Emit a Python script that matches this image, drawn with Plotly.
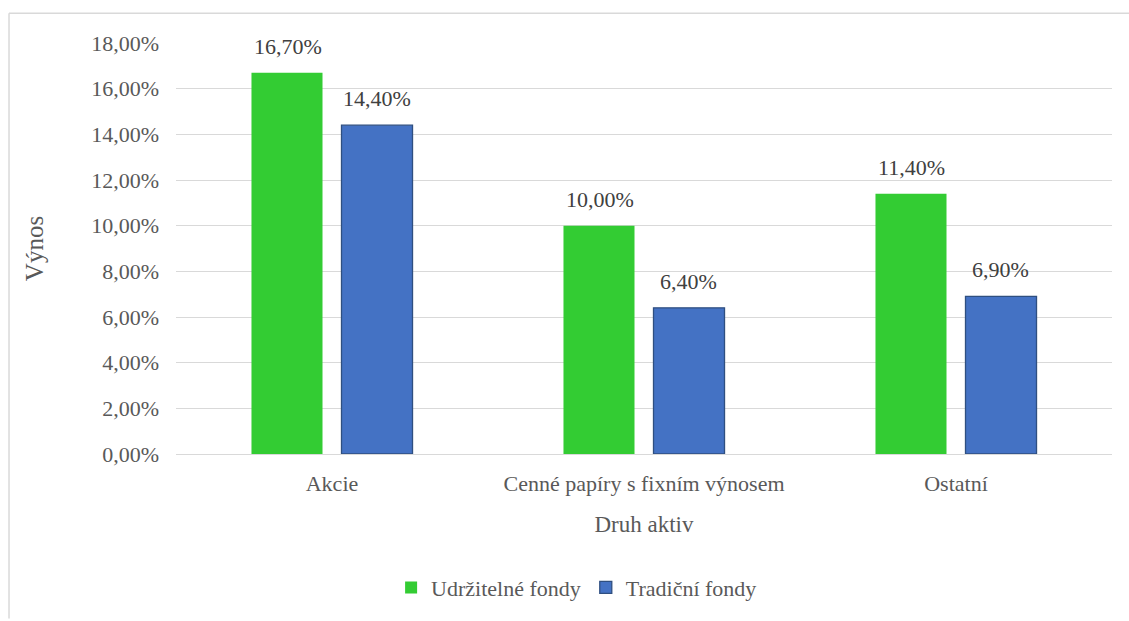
import plotly.graph_objects as go

categories = ["Akcie", "Cenné papíry s fixním výnosem", "Ostatní"]
udrzitelne = [16.7, 10.0, 11.4]
tradicni = [14.4, 6.4, 6.9]
series_names = ["Udržitelné fondy", "Tradiční fondy"]
y_ticks = [0, 2, 4, 6, 8, 10, 12, 14, 16, 18]
y_tick_labels = [f"{v:.2f}%".replace(".", ",") for v in y_ticks]

FONT = "'Liberation Serif', 'Times New Roman', Tinos, 'DejaVu Serif', serif"
GREEN = "#33CC33"
BLUE = "#4472C4"

fig = go.Figure()
fig.add_trace(go.Bar(x=categories, y=udrzitelne, name=series_names[0],
                     marker=dict(color=GREEN, line=dict(width=0))))
fig.add_trace(go.Bar(x=categories, y=tradicni, name=series_names[1],
                     marker=dict(color=BLUE, line=dict(color="#2F4F80", width=1.3))))

def fmt(v):
    return f"{v:.2f}%".replace(".", ",")

annotations = []
for vals, xs in ((udrzitelne, -44.5), (tradicni, 44.5)):
    for c, v in zip(categories, vals):
        annotations.append(dict(x=c, y=v, xref="x", yref="y", text=fmt(v),
                                showarrow=False, xshift=xs, yshift=12,
                                yanchor="bottom",
                                font=dict(family=FONT, size=22, color="#404040")))

fig.update_layout(
    width=1129, height=621,
    margin=dict(l=176, r=17, t=43, b=164),
    paper_bgcolor="white", plot_bgcolor="white",
    barmode="group", bargap=0.423, bargroupgap=0.211,
    font=dict(family=FONT, size=21, color="#595959"),
    annotations=annotations,
    legend=dict(orientation="h", x=0.428, xanchor="center", y=-0.325, yanchor="middle",
                font=dict(family=FONT, size=22, color="#595959"),
                itemwidth=30, tracegroupgap=0),
    xaxis=dict(showgrid=False, showline=True, linecolor="#D9D9D9", linewidth=1,
               ticks="", ticklabelstandoff=10,
               tickfont=dict(family=FONT, size=22, color="#595959"),
               title=dict(text="Druh aktiv", font=dict(family=FONT, size=23, color="#595959"),
                          standoff=20)),
    yaxis=dict(range=[0, 18], tickvals=y_ticks, ticktext=y_tick_labels,
               showgrid=True, gridcolor="#D9D9D9", gridwidth=1, zeroline=False,
               ticks="", ticklabelstandoff=16,
               tickfont=dict(family=FONT, size=22, color="#595959"),
               title=dict(text="Výnos", font=dict(family=FONT, size=25, color="#595959"),
                          standoff=40)),
    shapes=[
        dict(type="line", xref="paper", yref="paper", x0=-0.1784, x1=1.02, y0=1.0725, y1=1.0725,
             line=dict(color="#D9D9D9", width=1.5)),
        dict(type="line", xref="paper", yref="paper", x0=-0.1784, x1=-0.1784, y0=1.0725, y1=-0.4,
             line=dict(color="#D9D9D9", width=1.5)),
    ],
)

fig.write_html("out.html")
